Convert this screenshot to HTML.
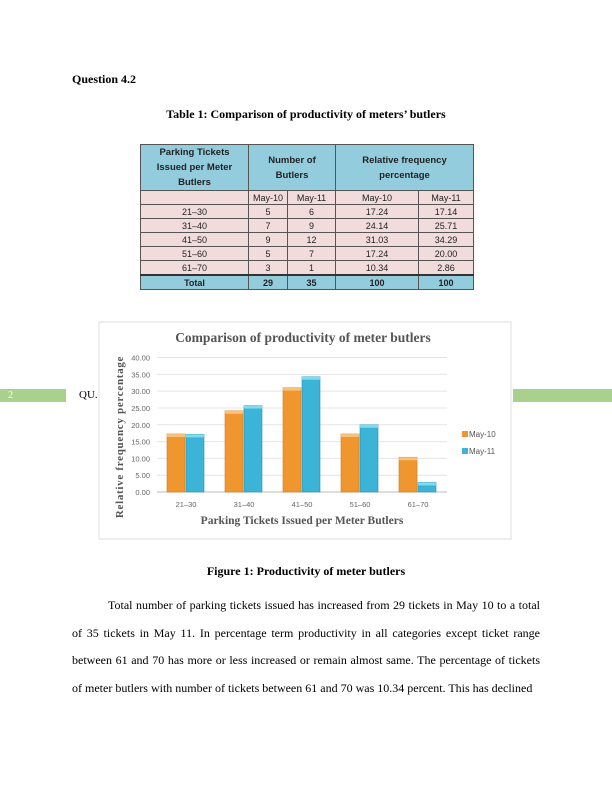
<!DOCTYPE html>
<html><head><meta charset="utf-8"><style>
body{margin:0;width:612px;height:792px;background:#fff;position:relative;font-family:"Liberation Serif",serif;overflow:hidden}
.abs{position:absolute}
table{border-collapse:collapse;table-layout:fixed;font-family:"Liberation Sans",sans-serif;font-size:9px;color:#222}
td{border:1px solid #555;text-align:center;padding:0;height:13px;overflow:hidden}
.h td{background:#93cddd;font-weight:bold;height:45px;line-height:15px;font-size:9.5px;padding:0 4px}
.r td{background:#f2dcdb}
.t td{background:#93cddd;font-weight:bold;border-top:2px solid #333}
p.txt{font-size:12px;line-height:27.7px;text-align:justify;margin:0}
</style></head><body>
<div class="abs" style="left:72px;top:72px;font-size:12px;font-weight:bold">Question 4.2</div>
<div class="abs" style="left:0;width:612px;top:107px;text-align:center;font-size:12px;font-weight:bold">Table 1: Comparison of productivity of meters’ butlers</div>
<table class="abs" style="left:140px;top:144px;width:333px">
<colgroup><col style="width:108px"><col style="width:39px"><col style="width:48px"><col style="width:83px"><col style="width:55px"></colgroup>
<tr class="h"><td>Parking Tickets Issued per Meter Butlers</td><td colspan="2" style="padding:0 18px">Number of Butlers</td><td colspan="2" style="padding:0 20px">Relative frequency percentage</td></tr>
<tr class="r"><td></td><td>May-10</td><td>May-11</td><td>May-10</td><td>May-11</td></tr>
<tr class="r"><td>21–30</td><td>5</td><td>6</td><td>17.24</td><td>17.14</td></tr>
<tr class="r"><td>31–40</td><td>7</td><td>9</td><td>24.14</td><td>25.71</td></tr>
<tr class="r"><td>41–50</td><td>9</td><td>12</td><td>31.03</td><td>34.29</td></tr>
<tr class="r"><td>51–60</td><td>5</td><td>7</td><td>17.24</td><td>20.00</td></tr>
<tr class="r"><td>61–70</td><td>3</td><td>1</td><td>10.34</td><td>2.86</td></tr>
<tr class="t"><td>Total</td><td>29</td><td>35</td><td>100</td><td>100</td></tr>
</table>
<div class="abs" style="left:0;top:389px;width:66px;height:13px;background:#a9d18e;color:#fff;font-size:10px;line-height:13px;padding-left:8px;box-sizing:border-box">2</div>
<div class="abs" style="left:513px;top:389px;width:99px;height:13px;background:#a9d18e"></div>
<div class="abs" style="left:79px;top:389px;font-size:11px">QU.</div>
<svg class="abs" style="left:0;top:0" width="612" height="792">
<rect x="99" y="322" width="412" height="217" fill="#fff" stroke="#ddd"/>
<g id="chart"></g>
</svg>
<div class="abs" style="left:0;width:612px;top:564px;text-align:center;font-size:12px;font-weight:bold">Figure 1: Productivity of meter butlers</div>
<div class="abs" style="left:72px;top:592px;width:468px"><p class="txt" style="text-indent:36px">Total number of parking tickets issued has increased from 29 tickets in May 10 to a total of 35 tickets in May 11. In percentage term productivity in all categories except ticket range between 61 and 70 has more or less increased or remain almost same. The percentage of tickets of meter butlers with number of tickets between 61 and 70 was 10.34 percent. This has declined</p></div>
<script>
const categories=["21–30","31–40","41–50","51–60","61–70"];
const may10=[17.24,24.14,31.03,17.24,10.34];
const may11=[17.14,25.71,34.29,20.00,2.86];
const yTicks=[0,5,10,15,20,25,30,35,40];
const seriesNames=["May-10","May-11"];
const NS="http://www.w3.org/2000/svg";
const g=document.getElementById("chart");
const x0=157,x1=447,yb=492,yt=357.5;
const y=v=>yb-(v/40)*(yb-yt);
const step=(x1-x0)/categories.length;
const cx=i=>x0+step*(i+0.5);
function mk(t,a,txt){const e=document.createElementNS(NS,t);for(const k in a)e.setAttribute(k,a[k]);if(txt!==undefined)e.textContent=txt;g.appendChild(e);return e;}
yTicks.forEach(v=>{
const l=mk("line",{x1:x0,x2:x1,y1:y(v),y2:y(v),stroke:v===0?"#bbb":"#e4e4e4"});


const t=mk("text",{x:150,y:y(v)+3,"text-anchor":"end","font-size":"7.5","fill":"#666","font-family":"Liberation Sans, sans-serif"},v.toFixed(2));


});
const cols=[["#f0962e","#d9781a"],["#3cb4d8","#2590b4"]];
categories.forEach((c,i)=>{
[may10,may11].forEach((s,j)=>{
const bx=cx(i)-19+j*19;
const r=mk("rect",{x:bx,y:y(s[i]),width:18,height:yb-y(s[i]),fill:cols[j][0],stroke:cols[j][1],"stroke-width":"0.6"});


const tp=mk("rect",{x:bx,y:y(s[i]),width:18,height:3,fill:j?"#7fdcf2":"#f7c27a"});


});
const t=mk("text",{x:cx(i),y:507,"text-anchor":"middle","font-size":"7.5","fill":"#666","font-family":"Liberation Sans, sans-serif"},c);


});
seriesNames.forEach((n,j)=>{
const r=mk("rect",{x:462,y:431+j*17,width:6,height:6,fill:cols[j][0]});


const t=mk("text",{x:469,y:437+j*17,"font-size":"8","fill":"#555","font-family":"Liberation Sans, sans-serif"},n);


});
const ti=mk("text",{x:303,y:342,"text-anchor":"middle","font-size":"13.5","font-weight":"bold","fill":"#555","font-family":"Liberation Serif, serif"},"Comparison of productivity of meter butlers");


const xt=mk("text",{x:302,y:524,"text-anchor":"middle","font-size":"11.5","font-weight":"bold","fill":"#555","font-family":"Liberation Serif, serif"},"Parking Tickets Issued per Meter Butlers");


const yt2=mk("text",{x:0,y:0,transform:"translate(123,437) rotate(-90)","text-anchor":"middle","font-size":"11","font-weight":"bold","fill":"#555","font-family":"Liberation Serif, serif","letter-spacing":"0.7"},"Relative frequency percentage");


</script>
</body></html>
